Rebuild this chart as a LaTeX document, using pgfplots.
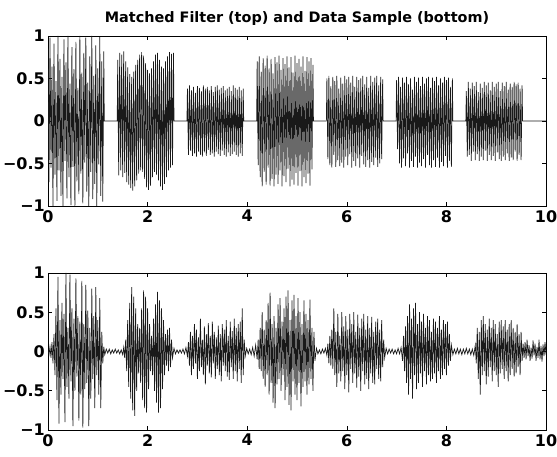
\documentclass[border=0pt]{standalone}
\usepackage{fontspec}
\setmainfont{DejaVu Sans}
\usepackage{pgfplots}
\pgfplotsset{compat=1.18}
\begin{document}
\begin{tikzpicture}[x=1pt,y=1pt]
\useasboundingbox (0,0) rectangle (557,457);
\pgfplotsset{
 mysub/.style={
  scale only axis, width=498pt, anchor=south west,
  xmin=0,xmax=10,ymin=-1,ymax=1,
  xtick={0,2,4,6,8,10}, xticklabels={0,2,4,6,8,10},
  ytick={-1,-0.5,0,0.5,1}, yticklabels={−1,−0.5,0,0.5,1},
  tick align=inside, major tick length=4pt,
  tick style={black, line width=0.5pt},
  axis line style={line width=0.6pt},
  tick label style={font=\fontsize{16}{16}\selectfont\bfseries},
  xticklabel style={inner sep=0pt, yshift=-4pt},
  yticklabel style={inner sep=0pt, xshift=-3pt},
 }}
\begin{axis}[mysub, at={(48pt,251pt)}, height=170pt]
\addplot[black!90, line width=0.7pt, mark=none] coordinates {
(0,0.85)(0.02,-0.72)(0.04,0.98)(0.06,-0.55)(0.08,0.64)(0.10,-1)(0.12,0.91)(0.14,-0.63)(0.16,0.47)(0.18,-0.94)
(0.20,1)(0.22,-0.58)(0.24,0.73)(0.26,-0.88)(0.28,0.52)(0.30,-1)(0.32,0.96)(0.34,-0.47)(0.36,0.69)(0.38,-0.91)
(0.40,1)(0.42,-0.66)(0.44,0.44)(0.46,-0.99)(0.48,0.87)(0.50,-0.54)(0.52,0.61)(0.54,-1)(0.56,0.93)(0.58,-0.71)
(0.60,0.39)(0.62,-0.86)(0.64,1)(0.66,-0.62)(0.68,0.57)(0.70,-0.97)(0.72,0.80)(0.74,-0.49)(0.76,0.98)(0.78,-0.83)
(0.80,0.45)(0.82,-1)(0.84,0.76)(0.86,-0.60)(0.88,1)(0.90,-0.92)(0.92,0.53)(0.94,-0.74)(0.96,0.89)(0.98,-1)
(1.00,0.62)(1.02,-0.51)(1.04,0.99)(1.06,-0.88)(1.08,0.70)(1.10,-0.95)(1.12,0.82)(1.13,0)(1.39,0)
(1.40,0.72)(1.42,-0.64)(1.44,0.80)(1.46,-0.58)(1.48,0.78)(1.50,-0.66)(1.52,0.82)(1.54,-0.61)(1.56,0.70)(1.58,-0.72)
(1.60,0.63)(1.62,-0.75)(1.64,0.55)(1.66,-0.79)(1.68,0.52)(1.70,-0.82)(1.72,0.58)(1.74,-0.77)(1.76,0.66)(1.78,-0.70)
(1.80,0.72)(1.82,-0.62)(1.84,0.78)(1.86,-0.58)(1.88,0.81)(1.90,-0.60)(1.92,0.77)(1.94,-0.68)(1.96,0.68)(1.98,-0.78)
(2.00,0.60)(2.02,-0.81)(2.04,0.56)(2.06,-0.76)(2.08,0.62)(2.10,-0.66)(2.12,0.70)(2.14,-0.60)(2.16,0.78)(2.18,-0.63)
(2.20,0.80)(2.22,-0.70)(2.24,0.72)(2.26,-0.77)(2.28,0.64)(2.30,-0.81)(2.32,0.62)(2.34,-0.74)(2.36,0.70)(2.38,-0.66)
(2.40,0.76)(2.42,-0.58)(2.44,0.81)(2.46,-0.55)(2.48,0.79)(2.50,-0.52)(2.52,0.80)(2.53,0)(2.79,0)
(2.80,0.38)(2.82,-0.40)(2.84,0.42)(2.86,-0.35)(2.88,0.36)(2.90,-0.41)(2.92,0.40)(2.94,-0.38)(2.96,0.33)(2.98,-0.42)
(3.00,0.41)(3.02,-0.36)(3.04,0.39)(3.06,-0.40)(3.08,0.35)(3.10,-0.42)(3.12,0.42)(3.14,-0.37)(3.16,0.38)(3.18,-0.41)
(3.20,0.40)(3.22,-0.34)(3.24,0.36)(3.26,-0.40)(3.28,0.41)(3.30,-0.38)(3.32,0.34)(3.34,-0.42)(3.36,0.40)(3.38,-0.36)
(3.40,0.42)(3.42,-0.39)(3.44,0.37)(3.46,-0.41)(3.48,0.39)(3.50,-0.35)(3.52,0.41)(3.54,-0.40)(3.56,0.36)(3.58,-0.42)
(3.60,0.38)(3.62,-0.37)(3.64,0.40)(3.66,-0.41)(3.68,0.35)(3.70,-0.39)(3.72,0.42)(3.74,-0.36)(3.76,0.39)(3.78,-0.40)
(3.80,0.37)(3.82,-0.42)(3.84,0.40)(3.86,-0.38)(3.88,0.36)(3.90,-0.41)(3.92,0.38)(3.93,0)(4.19,0)
(4.20,0.70)(4.22,-0.52)(4.24,0.76)(4.26,-0.66)(4.28,0.58)(4.30,-0.77)(4.32,0.74)(4.34,-0.60)(4.36,0.65)(4.38,-0.75)
(4.40,0.77)(4.42,-0.55)(4.44,0.62)(4.46,-0.76)(4.48,0.73)(4.50,-0.68)(4.52,0.56)(4.54,-0.77)(4.56,0.75)(4.58,-0.63)
(4.60,0.69)(4.62,-0.74)(4.64,0.77)(4.66,-0.58)(4.68,0.60)(4.70,-0.77)(4.72,0.74)(4.74,-0.65)(4.76,0.67)(4.78,-0.72)
(4.80,0.76)(4.82,-0.56)(4.84,0.63)(4.86,-0.77)(4.88,0.75)(4.90,-0.69)(4.92,0.57)(4.94,-0.75)(4.96,0.77)(4.98,-0.61)
(5.00,0.68)(5.02,-0.76)(5.04,0.73)(5.06,-0.59)(5.08,0.64)(5.10,-0.77)(5.12,0.76)(5.14,-0.66)(5.16,0.59)(5.18,-0.73)
(5.20,0.75)(5.22,-0.62)(5.24,0.70)(5.26,-0.76)(5.28,0.74)(5.30,-0.57)(5.32,0.66)(5.33,0)(5.59,0)
(5.60,0.50)(5.62,-0.45)(5.64,0.53)(5.66,-0.52)(5.68,0.41)(5.70,-0.55)(5.72,0.52)(5.74,-0.40)(5.76,0.47)(5.78,-0.54)
(5.80,0.53)(5.82,-0.46)(5.84,0.38)(5.86,-0.53)(5.88,0.51)(5.90,-0.49)(5.92,0.44)(5.94,-0.55)(5.96,0.53)(5.98,-0.42)
(6.00,0.49)(6.02,-0.52)(6.04,0.52)(6.06,-0.39)(6.08,0.45)(6.10,-0.55)(6.12,0.53)(6.14,-0.47)(6.16,0.40)(6.18,-0.53)
(6.20,0.52)(6.22,-0.44)(6.24,0.48)(6.26,-0.55)(6.28,0.50)(6.30,-0.41)(6.32,0.53)(6.34,-0.51)(6.36,0.43)(6.38,-0.54)
(6.40,0.52)(6.42,-0.46)(6.44,0.39)(6.46,-0.55)(6.48,0.53)(6.50,-0.48)(6.52,0.46)(6.54,-0.52)(6.56,0.51)(6.58,-0.43)
(6.60,0.53)(6.62,-0.54)(6.64,0.42)(6.66,-0.50)(6.68,0.52)(6.70,-0.45)(6.72,0.49)(6.73,0)(6.99,0)
(7.00,0.48)(7.02,-0.33)(7.04,0.52)(7.06,-0.50)(7.08,0.40)(7.10,-0.55)(7.12,0.51)(7.14,-0.44)(7.16,0.45)(7.18,-0.53)
(7.20,0.52)(7.22,-0.38)(7.24,0.43)(7.26,-0.55)(7.28,0.50)(7.30,-0.47)(7.32,0.37)(7.34,-0.54)(7.36,0.52)(7.38,-0.42)
(7.40,0.46)(7.42,-0.55)(7.44,0.51)(7.46,-0.49)(7.48,0.41)(7.50,-0.53)(7.52,0.52)(7.54,-0.45)(7.56,0.44)(7.58,-0.55)
(7.60,0.50)(7.62,-0.40)(7.64,0.52)(7.66,-0.52)(7.68,0.39)(7.70,-0.55)(7.72,0.51)(7.74,-0.46)(7.76,0.47)(7.78,-0.54)
(7.80,0.52)(7.82,-0.43)(7.84,0.42)(7.86,-0.55)(7.88,0.50)(7.90,-0.48)(7.92,0.45)(7.94,-0.53)(7.96,0.52)(7.98,-0.41)
(8.00,0.48)(8.02,-0.55)(8.04,0.51)(8.06,-0.47)(8.08,0.40)(8.10,-0.54)(8.12,0.50)(8.13,0)(8.39,0)
(8.40,0.35)(8.42,-0.42)(8.44,0.46)(8.46,-0.40)(8.48,0.38)(8.50,-0.47)(8.52,0.45)(8.54,-0.36)(8.56,0.41)(8.58,-0.46)
(8.60,0.46)(8.62,-0.39)(8.64,0.34)(8.66,-0.47)(8.68,0.44)(8.70,-0.42)(8.72,0.39)(8.74,-0.46)(8.76,0.46)(8.78,-0.35)
(8.80,0.42)(8.82,-0.47)(8.84,0.45)(8.86,-0.40)(8.88,0.36)(8.90,-0.46)(8.92,0.46)(8.94,-0.41)(8.96,0.40)(8.98,-0.47)
(9.00,0.44)(9.02,-0.37)(9.04,0.46)(9.06,-0.45)(9.08,0.35)(9.10,-0.47)(9.12,0.45)(9.14,-0.42)(9.16,0.41)(9.18,-0.46)
(9.20,0.46)(9.22,-0.38)(9.24,0.37)(9.26,-0.47)(9.28,0.44)(9.30,-0.43)(9.32,0.40)(9.34,-0.46)(9.36,0.46)(9.38,-0.36)
(9.40,0.43)(9.42,-0.47)(9.44,0.45)(9.46,-0.40)(9.48,0.38)(9.50,-0.46)(9.52,0.42)(9.53,0)(10,0)
};
\end{axis}
\begin{axis}[mysub, at={(48pt,27pt)}, height=157pt]
\addplot[black!90, line width=0.7pt, mark=none] coordinates {
(0,0.02)(0.02,-0.04)(0.04,0.06)(0.06,-0.08)(0.08,0.12)(0.10,-0.15)
(0.12,0.22)(0.14,-0.30)(0.16,0.55)(0.18,-0.62)(0.20,0.95)(0.22,-0.92)(0.24,0.40)(0.26,-0.55)(0.28,0.62)(0.30,-0.35)
(0.32,0.48)(0.34,-0.90)(0.36,1.00)(0.38,-0.45)(0.40,0.30)(0.42,-0.60)(0.44,0.98)(0.46,-0.38)(0.48,0.55)(0.50,-0.95)
(0.52,0.42)(0.54,-0.50)(0.56,0.93)(0.58,-0.32)(0.60,0.45)(0.62,-0.88)(0.64,0.38)(0.66,-0.55)(0.68,0.90)(0.70,-0.97)
(0.72,0.35)(0.74,-0.48)(0.76,0.85)(0.78,-0.40)(0.80,0.52)(0.82,-0.95)(0.84,0.30)(0.86,-0.60)(0.88,0.80)(0.90,-0.35)
(0.92,0.45)(0.94,-0.72)(0.96,0.82)(0.98,-0.30)(1.00,0.40)(1.02,-0.55)(1.04,0.68)(1.06,-0.72)(1.08,0.25)(1.10,-0.15)
(1.12,0.06)(1.14,-0.04)(1.17,0.03)(1.20,-0.02)(1.23,0.03)(1.26,-0.03)(1.29,0.02)(1.32,-0.02)(1.35,0.03)(1.38,-0.02)
(1.41,0.02)(1.44,-0.03)(1.47,0.02)(1.50,-0.04)(1.52,0.05)(1.54,-0.08)
(1.56,0.15)(1.58,-0.25)(1.60,0.40)(1.62,-0.45)(1.64,0.62)(1.66,-0.60)(1.68,0.82)(1.70,-0.75)(1.72,0.70)(1.74,-0.82)
(1.76,0.55)(1.78,-0.50)(1.80,0.35)(1.82,-0.28)(1.84,0.30)(1.86,-0.40)(1.88,0.55)(1.90,-0.62)(1.92,0.78)(1.94,-0.72)
(1.96,0.70)(1.98,-0.78)(2.00,0.55)(2.02,-0.48)(2.04,0.35)(2.06,-0.25)(2.08,0.20)(2.10,-0.30)(2.12,0.42)(2.14,-0.50)
(2.16,0.60)(2.18,-0.65)(2.20,0.76)(2.22,-0.78)(2.24,0.65)(2.26,-0.72)(2.28,0.55)(2.30,-0.48)(2.32,0.40)(2.34,-0.30)
(2.36,0.22)(2.38,-0.18)(2.40,0.28)(2.42,-0.25)(2.44,0.30)(2.46,-0.20)(2.48,0.15)(2.50,-0.08)
(2.53,0.04)(2.56,-0.03)(2.59,0.02)(2.62,-0.02)(2.65,0.02)(2.68,-0.02)(2.71,0.03)(2.74,-0.03)(2.77,0.05)(2.80,-0.06)
(2.82,0.12)(2.84,-0.18)(2.86,0.25)(2.88,-0.30)(2.90,0.20)(2.92,-0.22)(2.94,0.35)(2.96,-0.15)(2.98,0.28)(3.00,-0.35)
(3.02,0.18)(3.04,-0.25)(3.06,0.42)(3.08,-0.20)(3.10,0.15)(3.12,-0.30)(3.14,0.32)(3.16,-0.42)(3.18,0.22)(3.20,-0.18)
(3.22,0.36)(3.24,-0.28)(3.26,0.20)(3.28,-0.33)(3.30,0.38)(3.32,-0.15)(3.34,0.25)(3.36,-0.35)(3.38,0.18)(3.40,-0.22)
(3.42,0.33)(3.44,-0.30)(3.46,0.22)(3.48,-0.38)(3.50,0.35)(3.52,-0.18)(3.54,0.28)(3.56,-0.25)(3.58,0.40)(3.60,-0.32)
(3.62,0.20)(3.64,-0.36)(3.66,0.38)(3.68,-0.20)(3.70,0.26)(3.72,-0.35)(3.74,0.42)(3.76,-0.25)(3.78,0.30)(3.80,-0.38)
(3.82,0.35)(3.84,-0.22)(3.86,0.38)(3.88,-0.40)(3.90,0.55)(3.92,-0.30)(3.94,0.15)(3.96,-0.06)
(3.99,0.04)(4.02,-0.03)(4.05,0.03)(4.08,-0.04)(4.11,0.05)(4.14,-0.06)(4.17,0.08)(4.20,-0.10)
(4.22,0.15)(4.24,-0.22)(4.26,0.30)(4.28,-0.25)(4.30,0.50)(4.32,-0.35)(4.34,0.28)(4.36,-0.45)(4.38,0.40)(4.40,-0.30)
(4.42,0.62)(4.44,-0.55)(4.46,0.75)(4.48,-0.40)(4.50,0.35)(4.52,-0.65)(4.54,0.45)(4.56,-0.72)(4.58,0.30)(4.60,-0.42)
(4.62,0.60)(4.64,-0.35)(4.66,0.68)(4.68,-0.50)(4.70,0.38)(4.72,-0.30)(4.74,0.55)(4.76,-0.62)(4.78,0.70)(4.80,-0.45)
(4.82,0.78)(4.84,-0.68)(4.86,0.40)(4.88,-0.75)(4.90,0.65)(4.92,-0.38)(4.94,0.72)(4.96,-0.55)(4.98,0.45)(5.00,-0.62)
(5.02,0.68)(5.04,-0.40)(5.06,0.50)(5.08,-0.70)(5.10,0.35)(5.12,-0.45)(5.14,0.65)(5.16,-0.38)(5.18,0.48)(5.20,-0.55)
(5.22,0.40)(5.24,-0.42)(5.26,0.66)(5.28,-0.35)(5.30,0.30)(5.32,-0.50)(5.34,0.25)(5.36,-0.12)
(5.39,0.04)(5.42,-0.03)(5.45,0.02)(5.48,-0.03)(5.51,0.03)(5.54,-0.02)(5.57,0.04)(5.60,-0.05)
(5.62,0.10)(5.64,-0.15)(5.66,0.20)(5.68,-0.18)(5.70,0.28)(5.72,-0.22)(5.74,0.55)(5.76,-0.30)(5.78,0.25)(5.80,-0.45)
(5.82,0.48)(5.84,-0.28)(5.86,0.20)(5.88,-0.38)(5.90,0.50)(5.92,-0.25)(5.94,0.32)(5.96,-0.48)(5.98,0.45)(6.00,-0.30)
(6.02,0.28)(6.04,-0.52)(6.06,0.48)(6.08,-0.22)(6.10,0.35)(6.12,-0.40)(6.14,0.50)(6.16,-0.28)(6.18,0.25)(6.20,-0.46)
(6.22,0.47)(6.24,-0.32)(6.26,0.30)(6.28,-0.50)(6.30,0.42)(6.32,-0.25)(6.34,0.48)(6.36,-0.42)(6.38,0.28)(6.40,-0.35)
(6.42,0.45)(6.44,-0.48)(6.46,0.30)(6.48,-0.28)(6.50,0.44)(6.52,-0.40)(6.54,0.25)(6.56,-0.42)(6.58,0.38)(6.60,-0.22)
(6.62,0.42)(6.64,-0.35)(6.66,0.28)(6.68,-0.38)(6.70,0.40)(6.72,-0.20)(6.74,0.15)(6.76,-0.08)
(6.79,0.04)(6.82,-0.03)(6.85,0.03)(6.88,-0.02)(6.91,0.03)(6.94,-0.03)(6.97,0.02)(7.00,-0.03)(7.03,0.04)(7.06,-0.03)(7.09,0.05)
(7.12,-0.12)(7.14,0.20)(7.16,-0.25)(7.18,0.32)(7.20,-0.40)(7.22,0.45)(7.24,-0.55)(7.26,0.60)(7.28,-0.35)(7.30,0.42)
(7.32,-0.60)(7.34,0.55)(7.36,-0.30)(7.38,0.62)(7.40,-0.48)(7.42,0.35)(7.44,-0.40)(7.46,0.50)(7.48,-0.28)(7.50,0.38)
(7.52,-0.45)(7.54,0.48)(7.56,-0.25)(7.58,0.30)(7.60,-0.42)(7.62,0.45)(7.64,-0.30)(7.66,0.40)(7.68,-0.38)(7.70,0.25)
(7.72,-0.35)(7.74,0.42)(7.76,-0.28)(7.78,0.38)(7.80,-0.40)(7.82,0.30)(7.84,-0.25)(7.86,0.45)(7.88,-0.35)(7.90,0.28)
(7.92,-0.30)(7.94,0.40)(7.96,-0.22)(7.98,0.35)(8.00,-0.30)(8.02,0.38)(8.04,-0.18)(8.06,0.22)(8.08,-0.12)(8.10,0.08)
(8.13,-0.04)(8.16,0.03)(8.19,-0.03)(8.22,0.04)(8.25,-0.03)(8.28,0.03)(8.31,-0.04)(8.34,0.03)(8.37,-0.03)(8.40,0.04)
(8.43,-0.03)(8.46,0.03)(8.49,-0.04)(8.52,0.03)(8.55,-0.05)(8.58,0.08)
(8.60,-0.15)(8.62,0.30)(8.64,-0.35)(8.66,0.25)(8.68,-0.55)(8.70,0.40)(8.72,-0.30)(8.74,0.45)(8.76,-0.25)(8.78,0.35)
(8.80,-0.42)(8.82,0.28)(8.84,-0.32)(8.86,0.42)(8.88,-0.20)(8.90,0.30)(8.92,-0.38)(8.94,0.40)(8.96,-0.25)(8.98,0.35)
(9.00,-0.30)(9.02,0.22)(9.04,-0.45)(9.06,0.38)(9.08,-0.28)(9.10,0.40)(9.12,-0.22)(9.14,0.32)(9.16,-0.35)(9.18,0.40)
(9.20,-0.25)(9.22,0.28)(9.24,-0.38)(9.26,0.35)(9.28,-0.30)(9.30,0.40)(9.32,-0.22)(9.34,0.30)(9.36,-0.32)(9.38,0.25)
(9.40,-0.28)(9.42,0.35)(9.44,-0.20)(9.46,0.22)(9.48,-0.30)(9.50,0.25)(9.52,-0.12)(9.54,0.10)
(9.56,-0.08)(9.58,0.12)(9.60,-0.10)(9.62,0.15)(9.64,-0.06)(9.66,0.08)(9.68,-0.12)(9.70,0.05)(9.72,-0.09)(9.74,0.14)
(9.76,-0.05)(9.78,0.10)(9.80,-0.12)(9.82,0.06)(9.84,-0.08)(9.86,0.15)(9.88,-0.10)(9.90,0.07)(9.92,-0.13)(9.94,0.09)
(9.96,-0.06)(9.98,0.12)(10,-0.04)
};
\end{axis}
\node[anchor=base, font=\fontsize{14.4}{14.4}\selectfont\bfseries] at (297,434.5) {Matched Filter (top) and Data Sample (bottom)};
\end{tikzpicture}
\end{document}
